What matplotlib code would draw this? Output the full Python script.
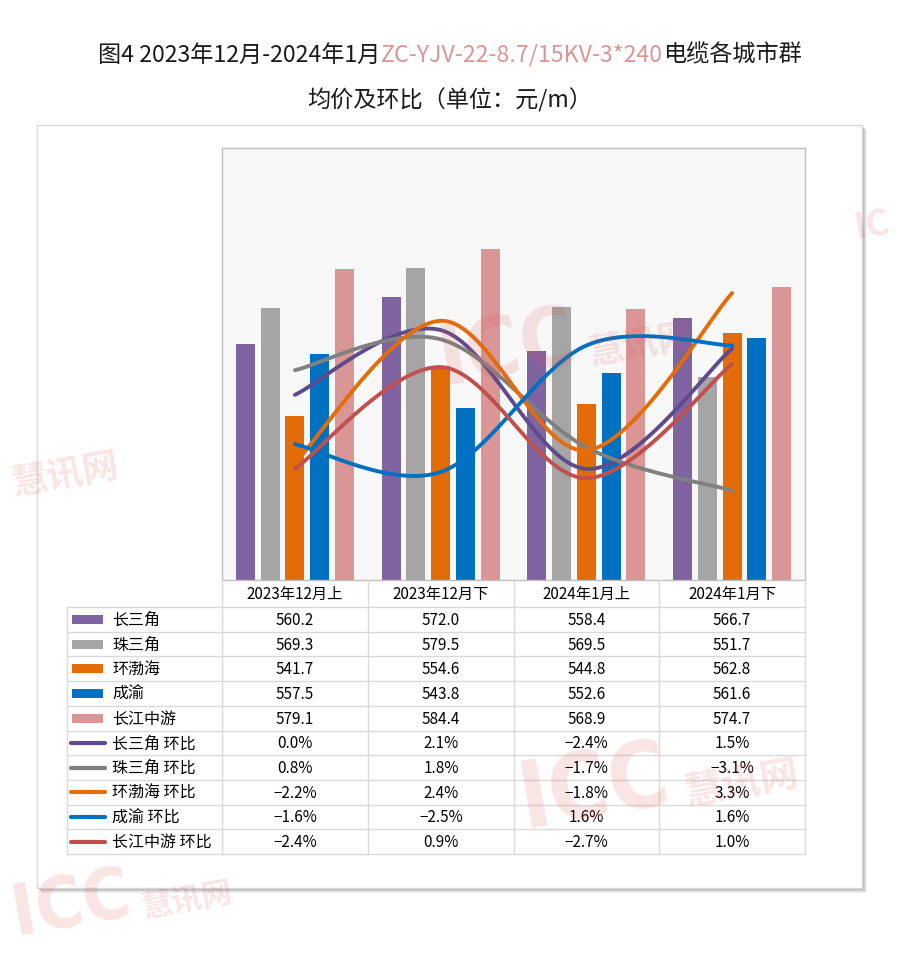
import matplotlib
matplotlib.use('Agg')
import matplotlib.pyplot as plt
from matplotlib.patches import Rectangle
import numpy as np

plt.rcParams['font.family'] = ['Noto Sans CJK SC', 'DejaVu Sans']

# 数据
periods = ['2023年12月上', '2023年12月下', '2024年1月上', '2024年1月下']
regions = ['长三角', '珠三角', '环渤海', '成渝', '长江中游']
price_csj = [560.2, 572.0, 558.4, 566.7]
price_zsj = [569.3, 579.5, 569.5, 551.7]
price_hbh = [541.7, 554.6, 544.8, 562.8]
price_cy = [557.5, 543.8, 552.6, 561.6]
price_cjzy = [579.1, 584.4, 568.9, 574.7]
mom_csj = [0.0, 2.1, -2.4, 1.5]
mom_zsj = [0.8, 1.8, -1.7, -3.1]
mom_hbh = [-2.2, 2.4, -1.8, 3.3]
mom_cy = [-1.6, -2.5, 1.6, 1.6]
mom_cjzy = [-2.4, 0.9, -2.7, 1.0]

prices = [price_csj, price_zsj, price_hbh, price_cy, price_cjzy]
moms = [mom_csj, mom_zsj, mom_hbh, mom_cy, mom_cjzy]
bar_colors = ['#8064A2', '#A5A5A5', '#E36C09', '#0070C0', '#D99694']
line_colors = ['#5F4B8B', '#808080', '#E46C0A', '#0070C0', '#C0504D']

W, H = 900, 964
fig = plt.figure(figsize=(W / 100, H / 100), dpi=100)


def smooth(xs, ys, n=40):
    # 类似Excel的平滑线（Catmull-Rom -> 贝塞尔）
    p = np.column_stack([xs, ys]).astype(float)
    p = np.vstack([p[0], p, p[-1]])
    out = []
    t = np.linspace(0, 1, n)[:, None]
    for i in range(1, len(p) - 2):
        p0, p1, p2, p3 = p[i - 1], p[i], p[i + 1], p[i + 2]
        c1 = p1 + (p2 - p0) / 6
        c2 = p2 - (p3 - p1) / 6
        seg = (1 - t) ** 3 * p1 + 3 * (1 - t) ** 2 * t * c1 + 3 * (1 - t) * t ** 2 * c2 + t ** 3 * p2
        out.append(seg)
    out = np.vstack(out)
    return out[:, 0], out[:, 1]


# 背景层：外框和阴影
bg = fig.add_axes([0, 0, 1, 1], zorder=-5)
bg.set_xlim(0, W)
bg.set_ylim(H, 0)
bg.axis('off')
for k, a in [(5, 0.10), (4, 0.15), (3, 0.2), (2, 0.25)]:
    bg.add_patch(Rectangle((37 + k, 125 + k), 825, 763, facecolor='#808080', alpha=a, edgecolor='none'))
bg.add_patch(Rectangle((37, 125), 825, 763, facecolor='white', edgecolor='#D9D9D9', lw=1))

# 主图
ax = fig.add_axes([222 / W, 1 - 580 / H, 583 / W, 432 / H])
ax.set_facecolor('#F8F8F8')
for s in ax.spines.values():
    s.set_color('#BFBFBF')
    s.set_linewidth(1)
ax.set_xlim(-0.5, 3.5)
ax.set_ylim(500, 610)
ax.set_xticks([])
ax.set_yticks([])

x = np.arange(len(periods))
step = 0.1695
for i, (vals, c) in enumerate(zip(prices, bar_colors)):
    ax.bar(x + (i - 2) * step, vals, width=0.13, color=c, zorder=2)

ax2 = ax.twinx()
ax2.set_ylim(-6, 8)
ax2.set_yticks([])
for s in ax2.spines.values():
    s.set_visible(False)
for vals, c in zip(moms, line_colors):
    sx, sy = smooth(x, vals)
    ax2.plot(sx, sy, color=c, lw=2.8, solid_capstyle='round', zorder=3)

# 数据表
tb = fig.add_axes([0, 0, 1, 1], zorder=5)
tb.set_xlim(0, W)
tb.set_ylim(H, 0)
tb.axis('off')
tb.patch.set_visible(False)

col_edges = [222, 368, 514, 659, 805]
hdr_top, row_top, row_h = 580, 607, 24.7
grid = '#D9D9D9'
n_rows = 10
bottom = row_top + n_rows * row_h
for xe in col_edges:
    tb.plot([xe, xe], [hdr_top, bottom], color=grid, lw=1)
tb.plot([67, 67], [row_top, bottom], color=grid, lw=1)
for r in range(n_rows + 1):
    yy = row_top + r * row_h
    tb.plot([67, 805], [yy, yy], color=grid, lw=1)

for j, p in enumerate(periods):
    tb.text((col_edges[j] + col_edges[j + 1]) / 2, (hdr_top + row_top) / 2 + 1, p,
            ha='center', va='center', fontsize=11)

labels = regions + [r + ' 环比' for r in regions]
for r in range(n_rows):
    yc = row_top + (r + 0.5) * row_h
    if r < 5:
        tb.add_patch(Rectangle((72, yc - 4.5), 31, 9, facecolor=bar_colors[r], edgecolor='none'))
        vals = ['%.1f' % v for v in prices[r]]
    else:
        tb.plot([71, 105], [yc, yc], color=line_colors[r - 5], lw=3, solid_capstyle='round')
        vals = ['%.1f%%' % v for v in moms[r - 5]]
    tb.text(112, yc + 1, labels[r], ha='left', va='center', fontsize=11.5)
    for j, v in enumerate(vals):
        tb.text((col_edges[j] + col_edges[j + 1]) / 2, yc + 1, v.replace('-', '−'),
                ha='center', va='center', fontsize=11)

# 标题
fig.canvas.draw()
rend = fig.canvas.get_renderer()
parts = [('图4 2023年12月-2024年1月', '#1a1a1a'), ('ZC-YJV-22-8.7/15KV-3*240', '#D99694'),
         ('电缆各城市群', '#1a1a1a')]
texts = [tb.text(0, 55, s, color=c, fontsize=16.7, ha='left', va='center') for s, c in parts]
widths = [t.get_window_extent(rend).width for t in texts]
xs = W / 2 - sum(widths) / 2
for t, w in zip(texts, widths):
    t.set_x(xs)
    xs += w
tb.text(W / 2, 100, '均价及环比（单位：元/m）', color='#1a1a1a', fontsize=16.7, ha='center', va='center')

# 水印
wm = fig.add_axes([0, 0, 1, 1], zorder=10)
wm.set_xlim(0, W)
wm.set_ylim(H, 0)
wm.axis('off')
wm.patch.set_visible(False)
wm_kw = dict(color='#E05050', alpha=0.15, rotation=10, ha='left', va='baseline', fontweight='bold')
for (wx, wy, fs, icc) in [(432, 385, 60, True), (512, 828, 66, True), (6, 935, 52, True),
                          (8, 495, 26, False), (852, 238, 26, False)]:
    if icc:
        t = wm.text(wx, wy, 'ICC', fontsize=fs, family='DejaVu Sans',
                    fontstretch='condensed', **wm_kw)
        x1 = t.get_window_extent(rend).x1
        wm.text(x1 + 4, wy - fs * 0.35, '慧讯网', fontsize=fs * 0.42, **wm_kw)
    else:
        wm.text(wx, wy, '慧讯网' if wx < 450 else 'IC', fontsize=fs, **wm_kw)

fig.savefig('out.png', dpi=100)
